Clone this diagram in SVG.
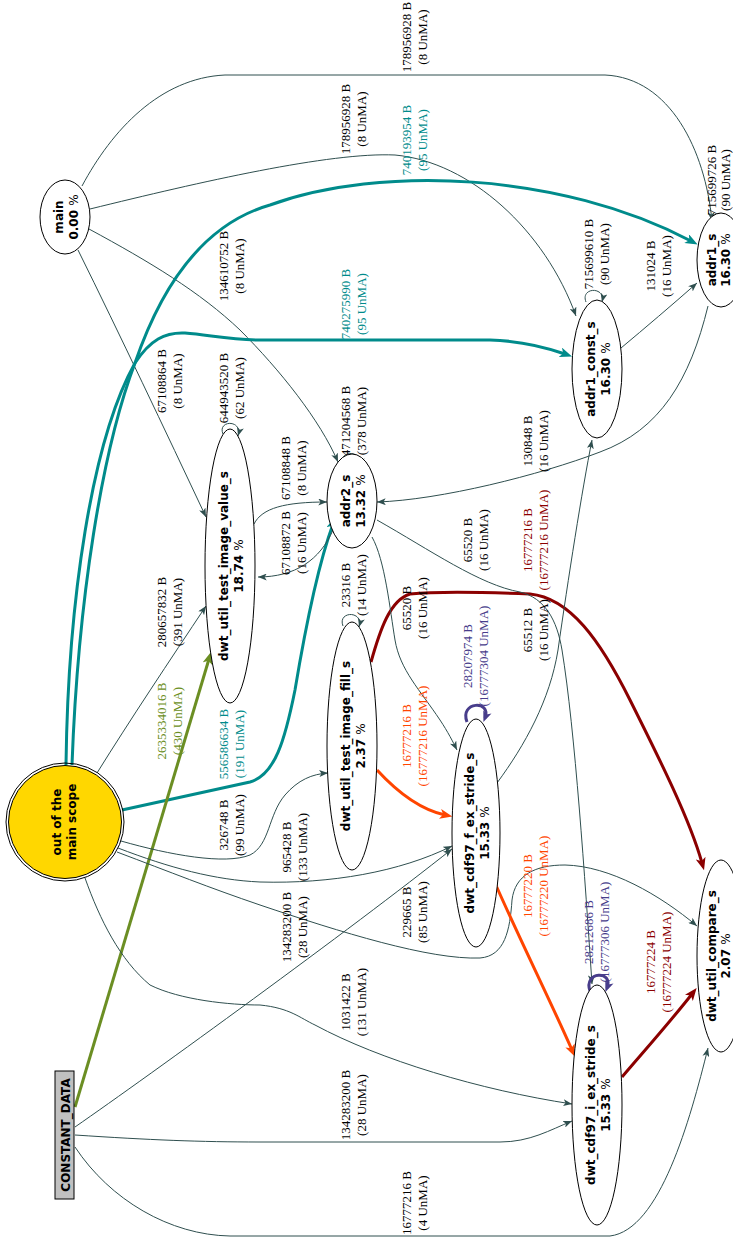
<svg xmlns="http://www.w3.org/2000/svg" width="733" height="1237" viewBox="0 0 733 1237">
<style>
  .e{fill:none;stroke:#2F4F4F;stroke-width:1}
  .k{fill:none;stroke-width:3}
  .t{font-family:"Liberation Serif",serif;font-size:13px;text-anchor:middle;fill:#000}
  .n{font-family:"DejaVu Sans",sans-serif;font-size:12px;font-weight:bold;text-anchor:middle;fill:#000}
  .nr{font-weight:normal}
  .ell{fill:#fff;stroke:#000;stroke-width:1}
</style>
<defs>
  <marker id="a" viewBox="0 0 10 8" refX="10" refY="4" markerWidth="9" markerHeight="7" markerUnits="userSpaceOnUse" orient="auto"><path d="M0,0 L10,4 L0,8 L2.5,4 z" fill="#2F4F4F"/></marker>
  <marker id="at" viewBox="0 0 10 8" refX="4" refY="4" markerWidth="13" markerHeight="10" markerUnits="userSpaceOnUse" orient="auto"><path d="M0,0 L10,4 L0,8 L2.5,4 z" fill="#008B8B"/></marker>
  <marker id="ao" viewBox="0 0 10 8" refX="4" refY="4" markerWidth="13" markerHeight="10" markerUnits="userSpaceOnUse" orient="auto"><path d="M0,0 L10,4 L0,8 L2.5,4 z" fill="#6B8E23"/></marker>
  <marker id="ar" viewBox="0 0 10 8" refX="4" refY="4" markerWidth="13" markerHeight="10" markerUnits="userSpaceOnUse" orient="auto"><path d="M0,0 L10,4 L0,8 L2.5,4 z" fill="#8B0000"/></marker>
  <marker id="ag" viewBox="0 0 10 8" refX="4" refY="4" markerWidth="13" markerHeight="10" markerUnits="userSpaceOnUse" orient="auto"><path d="M0,0 L10,4 L0,8 L2.5,4 z" fill="#FF4500"/></marker>
  <marker id="ab" viewBox="0 0 10 8" refX="6" refY="4" markerWidth="11" markerHeight="9" markerUnits="userSpaceOnUse" orient="auto"><path d="M0,0 L10,4 L0,8 L2.5,4 z" fill="#483D8B"/></marker>
</defs>
<rect width="733" height="1237" fill="#fff"/>

<g id="edges">
  <!-- main -> addr1_s -->
  <path class="e" marker-end="url(#a)" d="M82,186 C112,130 160,78 225,75 L605,75 C670,78 705,150 712,221"/>
  <!-- main -> addr1_const_s -->
  <path class="e" marker-end="url(#a)" d="M90,209 C200,182 330,152 395,155 C470,162 545,230 576,316"/>
  <!-- main -> dwt_util_test_image_value_s -->
  <path class="e" marker-end="url(#a)" d="M78,250 C120,335 165,430 206,517"/>
  <!-- main -> addr2_s -->
  <path class="e" marker-end="url(#a)" d="M89,229 C150,262 200,292 240,330 C280,370 320,420 338,462"/>
  <!-- out of the main scope -> addr1_s -->
  <path class="k" stroke="#008B8B" marker-end="url(#at)" d="M72,765 C78,600 102,450 135,363 C160,290 200,225 270,205 C380,165 560,172 691,241"/>
  <!-- out of the main scope -> addr1_const_s -->
  <path class="k" stroke="#008B8B" marker-end="url(#at)" d="M66,765 C68,600 92,440 135,363 C150,340 165,332 185,333 C210,335 230,340 260,340 L490,340 C525,341 548,348 565,354"/>
  <!-- out of the main scope -> addr2_s -->
  <path class="k" stroke="#008B8B" marker-end="url(#at)" d="M122,810 L250,782 C275,775 285,740 295,690 C305,630 318,565 333,524"/>
  <!-- out of the main scope -> dwt_util_test_image_value_s -->
  <path class="e" marker-end="url(#a)" d="M97,773 C130,720 170,660 206,606"/>
  <!-- CONSTANT_DATA -> dwt_util_test_image_value_s -->
  <path class="k" stroke="#6B8E23" marker-end="url(#ao)" d="M75,1107 L209,659"/>
  <!-- out of the main scope -> dwt_util_test_image_fill_s -->
  <path class="e" marker-end="url(#a)" d="M121,841 C170,855 225,865 250,855 C270,845 268,815 285,795 C298,780 312,774 328,773"/>
  <!-- out of the main scope -> dwt_cdf97_f_ex_stride_s -->
  <path class="e" marker-end="url(#a)" d="M118,848 C170,868 215,880 260,882 C330,884 400,872 452,846"/>
  <!-- out of the main scope -> dwt_util_compare_s -->
  <path class="e" marker-end="url(#a)" d="M117,852 C170,872 210,888 260,905 C340,932 430,960 480,958 C505,956 510,930 512,900 C515,875 535,865 565,865 C610,866 660,895 697,926"/>
  <!-- out of the main scope -> dwt_cdf97_i_ex_stride_s -->
  <path class="e" marker-end="url(#a)" d="M85,878 C100,920 120,960 150,985 C180,1000 230,1005 260,1005 C290,1008 300,1018 315,1025 C380,1060 480,1090 572,1104"/>
  <!-- CONSTANT_DATA -> dwt_cdf97_f_ex_stride_s -->
  <path class="e" marker-end="url(#a)" d="M75,1127 C150,1075 350,930 452,849"/>
  <!-- CONSTANT_DATA -> dwt_cdf97_i_ex_stride_s -->
  <path class="e" marker-end="url(#a)" d="M75,1135 C150,1140 200,1142 260,1142 L500,1142 C530,1142 550,1130 572,1121"/>
  <!-- CONSTANT_DATA -> dwt_util_compare_s -->
  <path class="e" marker-end="url(#a)" d="M75,1147 C110,1200 170,1235 230,1236 L610,1236 C660,1230 690,1120 708,1048"/>
  <!-- dwt_util_test_image_value_s self -->
  <path class="e" marker-end="url(#a)" d="M223,434 C217,420 243,419 238,436"/>
  <!-- dwt_util_test_image_value_s -> addr2_s -->
  <path class="e" marker-end="url(#a)" d="M254,524 C262,508 285,502 327,502"/>
  <!-- addr2_s -> dwt_util_test_image_value_s -->
  <path class="e" marker-end="url(#a)" d="M333,530 C320,560 295,577 258,577"/>
  <!-- addr2_s self -->
  <path class="e" marker-end="url(#a)" d="M343,465 C337,450 364,449 359,466"/>
  <!-- addr1_s -> addr2_s -->
  <path class="e" marker-end="url(#a)" d="M708,306 C690,380 660,430 600,452 C540,475 440,500 377,502"/>
  <!-- addr1_const_s self -->
  <path class="e" marker-end="url(#a)" d="M586,302 C580,287 606,286 602,302"/>
  <!-- addr1_const_s -> addr1_s -->
  <path class="e" marker-end="url(#a)" d="M621,348 C645,328 672,305 697,283"/>
  <!-- addr1_s self -->
  <path class="e" marker-end="url(#a)" d="M712,225 C707,210 731,209 726,225"/>
  <!-- dwt_util_test_image_fill_s self -->
  <path class="e" marker-end="url(#a)" d="M343,626 C337,611 364,610 359,627"/>
  <!-- dwt_util_test_image_fill_s -> dwt_util_compare_s -->
  <path class="k" stroke="#8B0000" marker-end="url(#ar)" d="M371,662 C380,630 390,600 410,594 C440,591 480,592 530,594 C570,598 600,640 630,700 C660,760 690,820 702,863"/>
  <!-- dwt_util_test_image_fill_s -> dwt_cdf97_f_ex_stride_s -->
  <path class="k" stroke="#FF4500" marker-end="url(#ag)" d="M377,770 C400,795 422,810 445,815"/>
  <!-- addr2_s -> dwt_cdf97_f_ex_stride_s -->
  <path class="e" marker-end="url(#a)" d="M372,537 C385,560 390,610 395,640 C400,670 420,690 440,720 C448,732 453,742 457,750"/>
  <!-- addr2_s -> dwt_cdf97_i_ex_stride_s -->
  <path class="e" marker-end="url(#a)" d="M377,520 C430,550 480,585 520,592 C545,598 557,620 562,650 C575,730 585,880 592,984"/>
  <!-- dwt_cdf97_f_ex_stride_s -> addr1_const_s -->
  <path class="e" marker-end="url(#a)" d="M497,783 C525,745 550,700 558,650 C568,580 582,490 592,440"/>
  <!-- dwt_cdf97_f_ex_stride_s self -->
  <path class="k" stroke="#483D8B" marker-end="url(#ab)" d="M467,722 C459,701 492,700 485,718"/>
  <!-- dwt_cdf97_f_ex_stride_s -> dwt_cdf97_i_ex_stride_s -->
  <path class="k" stroke="#FF4500" marker-end="url(#ag)" d="M495,883 C520,940 550,1000 572,1050"/>
  <!-- dwt_cdf97_i_ex_stride_s self -->
  <path class="k" stroke="#483D8B" marker-end="url(#ab)" d="M590,991 C583,971 614,970 607,988"/>
  <!-- dwt_cdf97_i_ex_stride_s -> dwt_util_compare_s -->
  <path class="k" stroke="#8B0000" marker-end="url(#ar)" d="M622,1077 C645,1050 670,1022 692,994"/>

  <!-- edge labels -->
  <text class="t" transform="translate(411,37) rotate(-90)"><tspan x="0">178956928 B</tspan><tspan x="0" dy="16">(8 UnMA)</tspan></text>
  <text class="t" transform="translate(350,119) rotate(-90)"><tspan x="0">178956928 B</tspan><tspan x="0" dy="16">(8 UnMA)</tspan></text>
  <text class="t" style="fill:#008B8B" transform="translate(411,140) rotate(-90)"><tspan x="0">740193954 B</tspan><tspan x="0" dy="16">(95 UnMA)</tspan></text>
  <text class="t" style="fill:#008B8B" transform="translate(350,304) rotate(-90)"><tspan x="0">740275990 B</tspan><tspan x="0" dy="16">(95 UnMA)</tspan></text>
  <text class="t" transform="translate(228,266) rotate(-90)"><tspan x="0">134610752 B</tspan><tspan x="0" dy="16">(8 UnMA)</tspan></text>
  <text class="t" transform="translate(166,381) rotate(-90)"><tspan x="0">67108864 B</tspan><tspan x="0" dy="16">(8 UnMA)</tspan></text>
  <text class="t" transform="translate(228,388) rotate(-90)"><tspan x="0">644943520 B</tspan><tspan x="0" dy="16">(62 UnMA)</tspan></text>
  <text class="t" transform="translate(166,612) rotate(-90)"><tspan x="0">280657832 B</tspan><tspan x="0" dy="16">(391 UnMA)</tspan></text>
  <text class="t" style="fill:#6B8E23" transform="translate(166,721) rotate(-90)"><tspan x="0">2635334016 B</tspan><tspan x="0" dy="16">(430 UnMA)</tspan></text>
  <text class="t" style="fill:#008B8B" transform="translate(228,744) rotate(-90)"><tspan x="0">556586634 B</tspan><tspan x="0" dy="16">(191 UnMA)</tspan></text>
  <text class="t" transform="translate(228,825) rotate(-90)"><tspan x="0">326748 B</tspan><tspan x="0" dy="16">(99 UnMA)</tspan></text>
  <text class="t" transform="translate(291,847) rotate(-90)"><tspan x="0">965428 B</tspan><tspan x="0" dy="16">(133 UnMA)</tspan></text>
  <text class="t" transform="translate(291,927) rotate(-90)"><tspan x="0">134283200 B</tspan><tspan x="0" dy="16">(28 UnMA)</tspan></text>
  <text class="t" transform="translate(411,912) rotate(-90)"><tspan x="0">229665 B</tspan><tspan x="0" dy="16">(85 UnMA)</tspan></text>
  <text class="t" transform="translate(350,1002) rotate(-90)"><tspan x="0">1031422 B</tspan><tspan x="0" dy="16">(131 UnMA)</tspan></text>
  <text class="t" transform="translate(350,1105) rotate(-90)"><tspan x="0">134283200 B</tspan><tspan x="0" dy="16">(28 UnMA)</tspan></text>
  <text class="t" transform="translate(411,1203) rotate(-90)"><tspan x="0">16777216 B</tspan><tspan x="0" dy="16">(4 UnMA)</tspan></text>
  <text class="t" transform="translate(290,468) rotate(-90)"><tspan x="0">67108848 B</tspan><tspan x="0" dy="16">(8 UnMA)</tspan></text>
  <text class="t" transform="translate(290,543) rotate(-90)"><tspan x="0">67108872 B</tspan><tspan x="0" dy="16">(16 UnMA)</tspan></text>
  <text class="t" transform="translate(350,421) rotate(-90)"><tspan x="0">471204568 B</tspan><tspan x="0" dy="16">(378 UnMA)</tspan></text>
  <text class="t" transform="translate(350,585) rotate(-90)"><tspan x="0">23316 B</tspan><tspan x="0" dy="16">(14 UnMA)</tspan></text>
  <text class="t" transform="translate(411,608) rotate(-90)"><tspan x="0">65520 B</tspan><tspan x="0" dy="16">(16 UnMA)</tspan></text>
  <text class="t" transform="translate(472,540) rotate(-90)"><tspan x="0">65520 B</tspan><tspan x="0" dy="16">(16 UnMA)</tspan></text>
  <text class="t" transform="translate(532,441) rotate(-90)"><tspan x="0">130848 B</tspan><tspan x="0" dy="16">(16 UnMA)</tspan></text>
  <text class="t" style="fill:#8B0000" transform="translate(532,540) rotate(-90)"><tspan x="0">16777216 B</tspan><tspan x="0" dy="16">(16777216 UnMA)</tspan></text>
  <text class="t" transform="translate(532,630) rotate(-90)"><tspan x="0">65512 B</tspan><tspan x="0" dy="16">(16 UnMA)</tspan></text>
  <text class="t" style="fill:#483D8B" transform="translate(472,656) rotate(-90)"><tspan x="0">28207974 B</tspan><tspan x="0" dy="16">(16777304 UnMA)</tspan></text>
  <text class="t" style="fill:#FF4500" transform="translate(411,736) rotate(-90)"><tspan x="0">16777216 B</tspan><tspan x="0" dy="16">(16777216 UnMA)</tspan></text>
  <text class="t" style="fill:#FF4500" transform="translate(532,886) rotate(-90)"><tspan x="0">16777220 B</tspan><tspan x="0" dy="16">(16777220 UnMA)</tspan></text>
  <text class="t" style="fill:#483D8B" transform="translate(593,932) rotate(-90)"><tspan x="0">28212686 B</tspan><tspan x="0" dy="16">(16777306 UnMA)</tspan></text>
  <text class="t" style="fill:#8B0000" transform="translate(655,962) rotate(-90)"><tspan x="0">16777224 B</tspan><tspan x="0" dy="16">(16777224 UnMA)</tspan></text>
  <text class="t" transform="translate(593,254) rotate(-90)"><tspan x="0">715699610 B</tspan><tspan x="0" dy="16">(90 UnMA)</tspan></text>
  <text class="t" transform="translate(655,266) rotate(-90)"><tspan x="0">131024 B</tspan><tspan x="0" dy="16">(16 UnMA)</tspan></text>
  <text class="t" transform="translate(716,180) rotate(-90)"><tspan x="0">715699726 B</tspan><tspan x="0" dy="14">(90 UnMA)</tspan></text>
</g>

<g id="main">
  <ellipse class="ell" cx="65" cy="217" rx="25" ry="37"/>
  <text class="n" transform="translate(62.5,217) rotate(-90)"><tspan x="0">main</tspan><tspan x="0" dy="15">0.00 <tspan class="nr">%</tspan></tspan></text>
</g>
<g id="addr1_s">
  <ellipse class="ell" cx="721" cy="260" rx="24" ry="47"/>
  <text class="n" transform="translate(716,260) rotate(-90)"><tspan x="0">addr1_s</tspan><tspan x="0" dy="14">16.30 <tspan class="nr">%</tspan></tspan></text>
</g>
<g id="addr1_const_s">
  <ellipse class="ell" cx="597" cy="369" rx="25" ry="69"/>
  <text class="n" transform="translate(594.5,369) rotate(-90)"><tspan x="0">addr1_const_s</tspan><tspan x="0" dy="15">16.30 <tspan class="nr">%</tspan></tspan></text>
</g>
<g id="addr2_s">
  <ellipse class="ell" cx="352" cy="501" rx="25" ry="47"/>
  <text class="n" transform="translate(349.5,501) rotate(-90)"><tspan x="0">addr2_s</tspan><tspan x="0" dy="15">13.32 <tspan class="nr">%</tspan></tspan></text>
</g>
<g id="dwt_util_test_image_value_s">
  <ellipse class="ell" cx="230" cy="566" rx="25" ry="137"/>
  <text class="n" transform="translate(227.5,566) rotate(-90)"><tspan x="0">dwt_util_test_image_value_s</tspan><tspan x="0" dy="15">18.74 <tspan class="nr">%</tspan></tspan></text>
</g>
<g id="dwt_util_test_image_fill_s">
  <ellipse class="ell" cx="352" cy="746" rx="25" ry="124"/>
  <text class="n" transform="translate(349.5,746) rotate(-90)"><tspan x="0">dwt_util_test_image_fill_s</tspan><tspan x="0" dy="15">2.37 <tspan class="nr">%</tspan></tspan></text>
</g>
<g id="dwt_cdf97_f_ex_stride_s">
  <ellipse class="ell" cx="476" cy="833" rx="24" ry="114"/>
  <text class="n" transform="translate(473.5,833) rotate(-90)"><tspan x="0">dwt_cdf97_f_ex_stride_s</tspan><tspan x="0" dy="15">15.33 <tspan class="nr">%</tspan></tspan></text>
</g>
<g id="dwt_util_compare_s">
  <ellipse class="ell" cx="721" cy="956" rx="24" ry="96"/>
  <text class="n" transform="translate(716,956) rotate(-90)"><tspan x="0">dwt_util_compare_s</tspan><tspan x="0" dy="14">2.07 <tspan class="nr">%</tspan></tspan></text>
</g>
<g id="dwt_cdf97_i_ex_stride_s">
  <ellipse class="ell" cx="597" cy="1105" rx="25" ry="120"/>
  <text class="n" transform="translate(594.5,1105) rotate(-90)"><tspan x="0">dwt_cdf97_i_ex_stride_s</tspan><tspan x="0" dy="15">15.33 <tspan class="nr">%</tspan></tspan></text>
</g>
<g id="out_of_the_main_scope">
  <circle cx="65" cy="822" r="59" fill="none" stroke="#000" stroke-width="1"/>
  <circle cx="65" cy="822" r="56.5" fill="#FFD700" stroke="#000" stroke-width="1"/>
  <text class="n" transform="translate(61,822) rotate(-90)"><tspan x="0">out of the</tspan><tspan x="0" dy="15">main scope</tspan></text>
</g>
<g id="CONSTANT_DATA">
  <rect x="55" y="1071" width="19" height="128" fill="#C0C0C0" stroke="#000" stroke-width="1"/>
  <text class="n" transform="translate(69.5,1135) rotate(-90)">CONSTANT_DATA</text>
</g>
</svg>
